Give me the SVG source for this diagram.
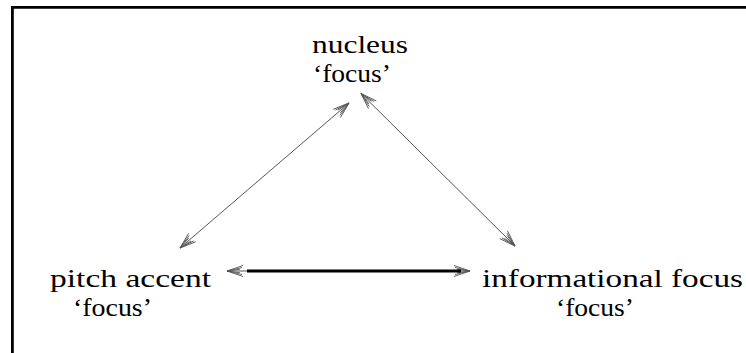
<svg xmlns="http://www.w3.org/2000/svg" width="746" height="353" viewBox="0 0 746 353">
<style>
.t{font-family:"Liberation Serif","DejaVu Serif",serif;font-size:26px;fill:#000}
.thin{stroke:#555;stroke-width:1;fill:none}
.head{stroke:#555;stroke-width:0.9;fill:none}
</style>
<defs>
<marker id="ah" markerUnits="userSpaceOnUse" orient="auto-start-reverse" refX="0" refY="0" markerWidth="20" markerHeight="14" overflow="visible">
<path class="head" d="M0,0 L-16,-5.5 M0,0 L-16,5.5 M0,0 L-15,-3.5 M0,0 L-15,3.5 M0,0 L-13,-1.8 M0,0 L-13,1.8"/>
</marker>
</defs>
<g id="frame" stroke="#000" stroke-width="2.8">
<line x1="11" y1="7.4" x2="746" y2="7.4"/>
<line x1="12.4" y1="6" x2="12.4" y2="353"/>
</g>
<g id="nucleus">
<text class="t" x="312" y="53" textLength="96" lengthAdjust="spacingAndGlyphs">nucleus</text>
<text class="t" x="313" y="82" textLength="78" lengthAdjust="spacingAndGlyphs">‘focus’</text>
</g>
<g id="pitch-accent">
<text class="t" x="50" y="287" textLength="161" lengthAdjust="spacingAndGlyphs">pitch accent</text>
<text class="t" x="73" y="316" textLength="79" lengthAdjust="spacingAndGlyphs">‘focus’</text>
</g>
<g id="informational-focus">
<text class="t" x="482" y="287" textLength="261" lengthAdjust="spacingAndGlyphs">informational focus</text>
<text class="t" x="556" y="316" textLength="78" lengthAdjust="spacingAndGlyphs">‘focus’</text>
</g>
<g id="connectors">
<line class="thin" x1="180" y1="248" x2="349" y2="103" marker-start="url(#ah)" marker-end="url(#ah)"/>
<line class="thin" x1="361" y1="93.5" x2="515" y2="246" marker-start="url(#ah)" marker-end="url(#ah)"/>
<line class="thin" x1="227" y1="271" x2="470" y2="271" marker-start="url(#ah)" marker-end="url(#ah)"/>
<line stroke="#000" stroke-width="3" x1="247" y1="271" x2="461" y2="271"/>
</g>
</svg>
